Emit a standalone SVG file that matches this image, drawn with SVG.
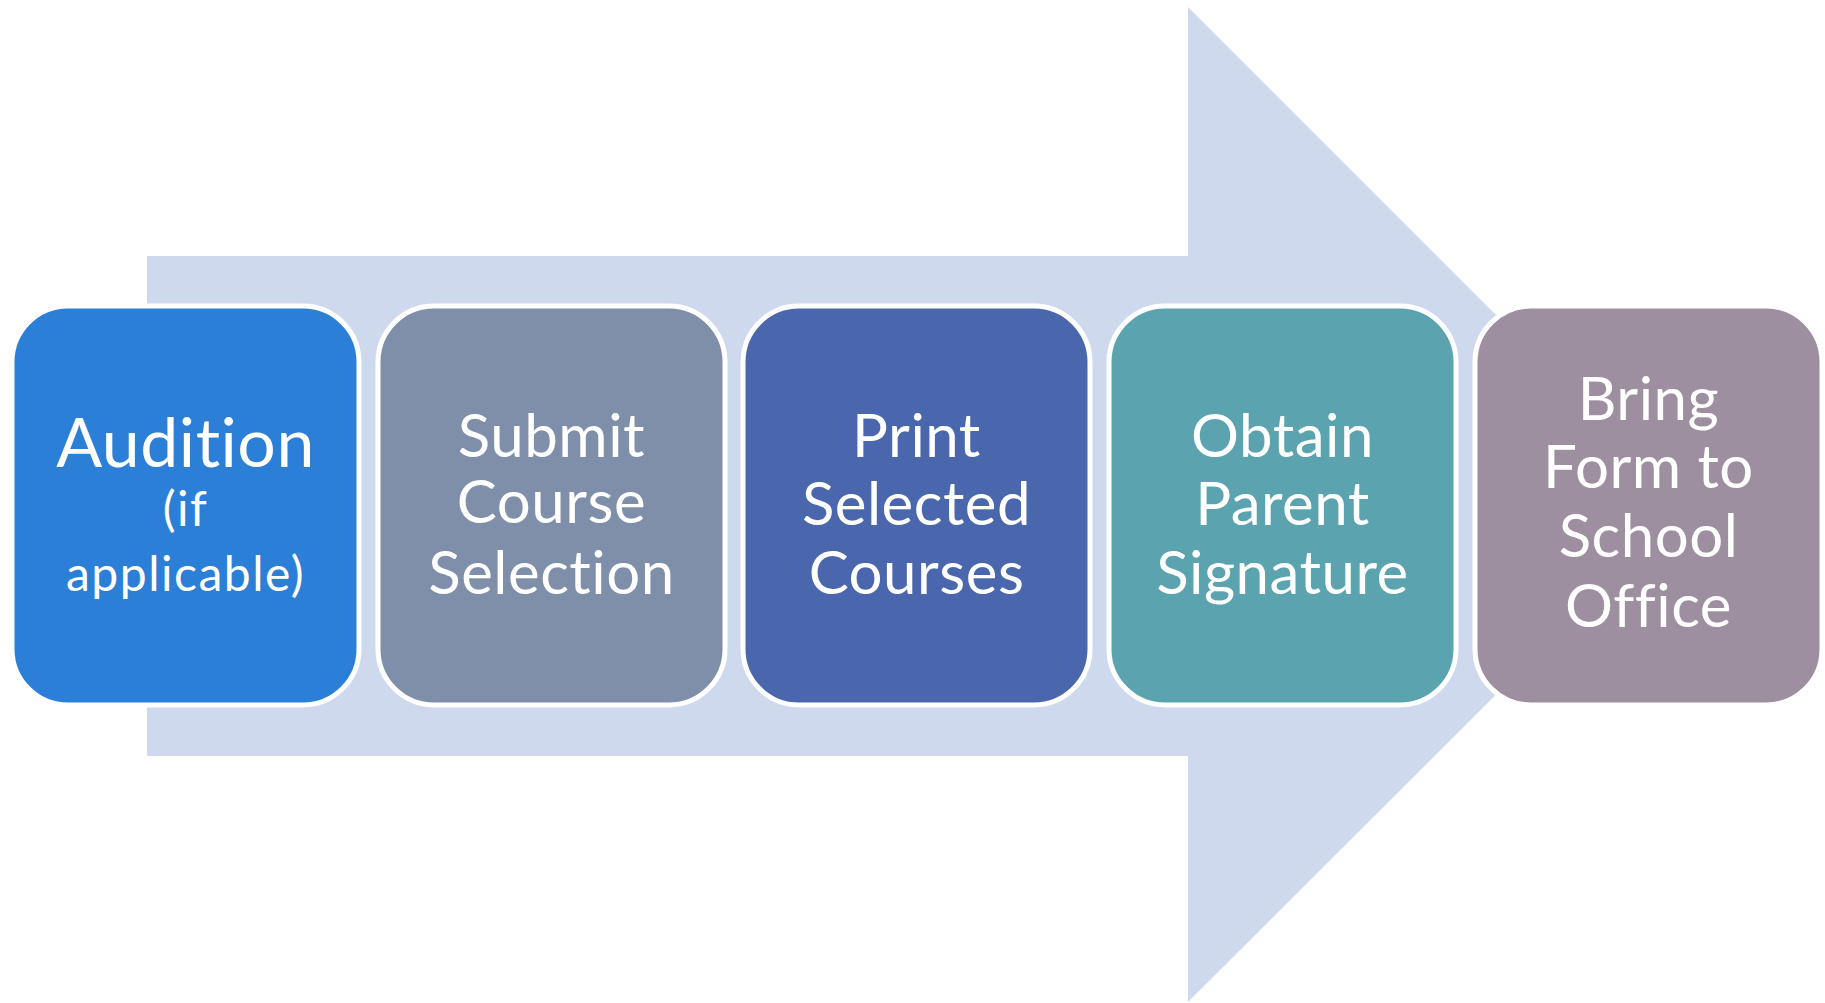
<svg xmlns="http://www.w3.org/2000/svg" width="1825" height="1003" viewBox="0 0 1825 1003">
<style>
.box{stroke:#FFFFFF;stroke-width:5}
.t{font-family:Lato,"Noto Sans","Liberation Sans",sans-serif;fill:#FFFFFF;text-anchor:middle;font-size:60px;font-variant-ligatures:none;letter-spacing:0.5px}
.big{font-size:68px}
.sm{font-size:48px;letter-spacing:1.5px}
</style>
<rect width="1825" height="1003" fill="#FFFFFF"/>
<g id="arrow">
<polygon points="147,256 1188,256 1188,7 1686,505 1188,1002 1188,756 147,756" fill="#CED9EE"/>
</g>
<g id="n1">
<rect class="box" x="12" y="306" width="347" height="399" rx="56" fill="#2C7FD7"/>
<text class="t big" x="185.5" y="467">Audition</text>
<text class="t sm" x="185.5" y="526">(if</text>
<text class="t sm" x="185.5" y="591">applicable)</text>
</g>
<g id="n2">
<rect class="box" x="378" y="306" width="347" height="399" rx="56" fill="#7F8FA9"/>
<text class="t" x="551.5" y="457">Submit</text>
<text class="t" x="551.5" y="523">Course</text>
<text class="t" x="551.5" y="594">Selection</text>
</g>
<g id="n3">
<rect class="box" x="743" y="306" width="347" height="399" rx="56" fill="#4A67AD"/>
<text class="t" x="916.5" y="457">Print</text>
<text class="t" x="916.5" y="525">Selected</text>
<text class="t" x="916.5" y="594">Courses</text>
</g>
<g id="n4">
<rect class="box" x="1109" y="306" width="347" height="399" rx="56" fill="#5BA3AF"/>
<text class="t" x="1282.5" y="457">Obtain</text>
<text class="t" x="1282.5" y="525">Parent</text>
<text class="t" x="1282.5" y="594">Signature</text>
</g>
<g id="n5">
<rect class="box" x="1475" y="306" width="347" height="399" rx="56" fill="#9D8FA0"/>
<text class="t" x="1648.5" y="420">Bring</text>
<text class="t" x="1648.5" y="488">Form to</text>
<text class="t" x="1648.5" y="557">School</text>
<text class="t" x="1648.5" y="627">Office</text>
</g>
</svg>
